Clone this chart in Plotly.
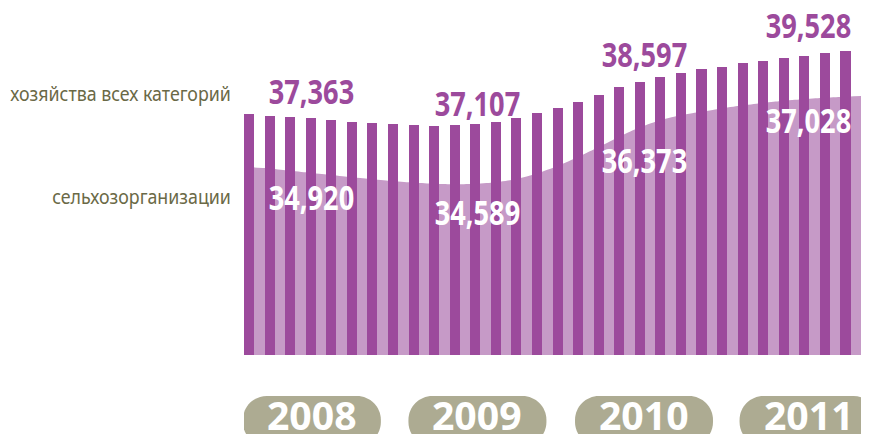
import plotly.graph_objects as go

# ---------------- data ----------------
years = ["2008", "2009", "2010", "2011"]
total_labels = ["37,363", "37,107", "38,597", "39,528"]      # хозяйства всех категорий
org_labels = ["34,920", "34,589", "36,373", "37,028"]        # сельхозорганизации
total_label_values = [37363, 37107, 38597, 39528]
org_label_values = [34920, 34589, 36373, 37028]

# monthly bars (all categories)
bar_values = [37363, 37314, 37270, 37225, 37167, 37109, 37054, 37020, 36996, 36972,
              36986, 37030, 37088, 37225, 37396, 37588, 37772, 38022, 38285, 38477,
              38627, 38764, 38901, 38990, 39106, 39195, 39277, 39366, 39448, 39528]

# agricultural organisations area, read at slot boundaries
area_values = [34920, 34890, 34825, 34762, 34694, 34629, 34569, 34513, 34465, 34427,
               34406, 34415, 34453, 34534, 34682, 34890, 35148, 35436, 35745, 36030,
               36262, 36425, 36538, 36636, 36731, 36809, 36871, 36921, 36969, 36999,
               37028]

series_names = ["хозяйства всех категорий", "сельхозорганизации"]

# ---------------- layout constants ----------------
W, H = 869, 434
ML, MR, MT, MB = 244, 8, 20, 79
PH = H - MT - MB
BAR_COLOR = "#9c4a9c"
AREA_COLOR = "#c69ac7"
TEXT_OLIVE = "#6a6946"
PILL_COLOR = "#adab92"
FONT = "Noto Sans, Open Sans, DejaVu Sans Condensed, sans-serif"

n = len(bar_values)
bar_x = list(range(n))
area_x = [i - 0.5 for i in range(n + 1)]
year_x = [2.8, 10.85, 18.95, 26.95]
top_dy = [23, 19, 24, 26]
bot_dy = [-30, -34, -42, -24]

bar_range = [29130, 29130 + PH * 34.2]
area_range = [29336, 29336 + PH * 29.7]

fig = go.Figure()
fig.add_trace(go.Scatter(
    x=area_x, y=area_values, mode="lines", line=dict(width=0, shape="spline", smoothing=0.6),
    fill="tozeroy", fillcolor=AREA_COLOR, yaxis="y", name=series_names[1],
    hoverinfo="skip", showlegend=False))
fig.add_trace(go.Bar(
    x=bar_x, y=bar_values, width=0.49, offset=-0.5, marker=dict(color=BAR_COLOR, line=dict(width=0)),
    yaxis="y2", name=series_names[0], showlegend=False))

ann = []
# value labels
for i in range(len(years)):
    ann.append(dict(x=year_x[i], y=total_label_values[i], xref="x", yref="y2",
                    text="<b>%s</b>" % total_labels[i], showarrow=False, yanchor="middle",
                    yshift=top_dy[i], font=dict(family=FONT, size=34, color=BAR_COLOR)))
    ann.append(dict(x=year_x[i], y=org_label_values[i], xref="x", yref="y",
                    text="<b>%s</b>" % org_labels[i], showarrow=False, yanchor="middle",
                    yshift=bot_dy[i], font=dict(family=FONT, size=34, color="white")))
n_val = len(ann)
# year labels
for i in range(len(years)):
    ann.append(dict(x=year_x[i], y=(355 - 414) / PH, xref="x", yref="paper",
                    text="<b>%s</b>" % years[i], showarrow=False, yanchor="middle",
                    font=dict(family=FONT, size=40, color="white")))
n_year_end = len(ann)
# series captions at left
ann.append(dict(x=0, y=(355 - 93) / PH, xref="paper", yref="paper", xanchor="right",
                xshift=-11, text=series_names[0], showarrow=False, yanchor="middle",
                font=dict(family=FONT, size=20, color=TEXT_OLIVE)))
ann.append(dict(x=0, y=(355 - 196) / PH, xref="paper", yref="paper", xanchor="right",
                xshift=-11, text=series_names[1], showarrow=False, yanchor="middle",
                font=dict(family=FONT, size=20, color=TEXT_OLIVE)))

# rounded "pill" backgrounds for years
shapes = []
px_per_x = (W - ML - MR) / n
half_w = 69 / px_per_x
rx = 24 / px_per_x
ry = 24 / PH
y_top = (355 - 396) / PH
y_bot = (355 - 446) / PH
k = 0.5523
for i in range(len(years)):
    x0 = year_x[i] - half_w
    x1 = year_x[i] + half_w
    p = (f"M {x0+rx},{y_top} L {x1-rx},{y_top} "
         f"C {x1-rx+k*rx},{y_top} {x1},{y_top-ry+k*ry} {x1},{y_top-ry} "
         f"L {x1},{y_bot+ry} "
         f"C {x1},{y_bot+ry-k*ry} {x1-rx+k*rx},{y_bot} {x1-rx},{y_bot} "
         f"L {x0+rx},{y_bot} "
         f"C {x0+rx-k*rx},{y_bot} {x0},{y_bot+ry-k*ry} {x0},{y_bot+ry} "
         f"L {x0},{y_top-ry} "
         f"C {x0},{y_top-ry+k*ry} {x0+rx-k*rx},{y_top} {x0+rx},{y_top} Z")
    shapes.append(dict(type="path", path=p, xref="x", yref="paper",
                       fillcolor=PILL_COLOR, line=dict(width=0), layer="below"))

fig.update_layout(
    width=W, height=H, margin=dict(l=ML, r=MR, t=MT, b=MB),
    paper_bgcolor="white", plot_bgcolor="rgba(0,0,0,0)",
    xaxis=dict(range=[-0.5, n - 0.5], visible=False, fixedrange=True),
    yaxis=dict(range=area_range, visible=False, fixedrange=True),
    yaxis2=dict(range=bar_range, visible=False, overlaying="y", fixedrange=True),
    bargap=0, annotations=ann, shapes=shapes, showlegend=False,
)

# condensed look (the reference uses a condensed typeface)
css = [".annotation-text { transform-box: fill-box; transform-origin: center; transform: scaleX(0.8); }"]
for j in range(n_val, n_year_end):
    css.append('g.annotation[data-index="%d"] .annotation-text { transform: scaleX(0.98); }' % j)
for j in range(n_year_end, len(ann)):
    css.append('g.annotation[data-index="%d"] .annotation-text { transform-origin: right center; transform: scaleX(0.89); }' % j)
css_text = " ".join(css)

post = """
document.body.style.margin = '0px';
var st = document.createElement('style');
st.textContent = '%s';
document.head.appendChild(st);
""" % css_text
fig.write_html("out.html", config={"displayModeBar": False, "staticPlot": True}, post_script=post)
